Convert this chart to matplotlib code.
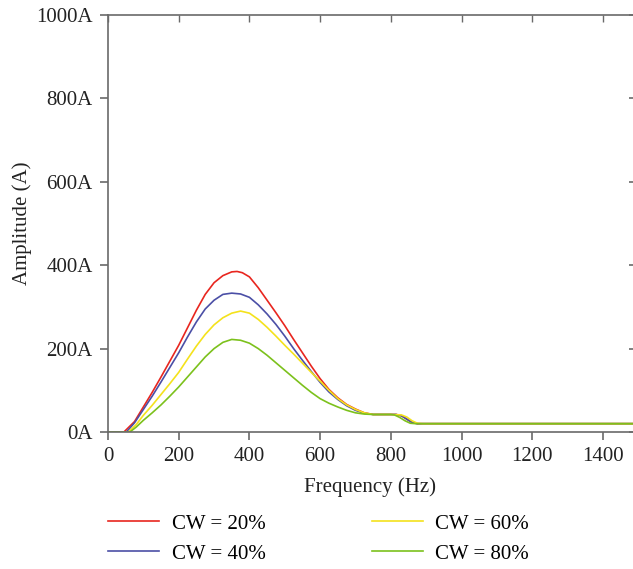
import matplotlib
matplotlib.use('Agg')
import matplotlib.pyplot as plt

plt.rcParams['font.family'] = ['Liberation Serif', 'DejaVu Serif']

# Amplitude spectra
freq_20 = [0, 45, 75, 100, 125, 150, 175, 200, 225, 250, 275, 300, 325, 350, 365, 380, 400, 425, 450, 475, 500, 525, 550, 575, 600, 625, 650, 675, 700, 725, 750, 800, 815, 830, 845, 860, 875, 900, 1000, 1100, 1200, 1300, 1400, 1500]
amp_20 = [0, 0, 25, 60, 95, 132, 170, 208, 250, 292, 330, 358, 375, 384, 385, 382, 372, 346, 316, 286, 255, 222, 190, 158, 128, 102, 82, 66, 55, 46, 42, 42, 42, 39, 31, 23, 20, 20, 20, 20, 20, 20, 20, 20]

freq_40 = [0, 52, 75, 100, 125, 150, 175, 200, 225, 250, 275, 300, 325, 350, 375, 400, 425, 450, 475, 500, 525, 550, 575, 600, 625, 650, 675, 700, 725, 750, 800, 815, 830, 845, 860, 875, 900, 1000, 1100, 1200, 1300, 1400, 1500]
amp_40 = [0, 0, 22, 54, 86, 120, 155, 190, 228, 264, 295, 316, 330, 333, 331, 323, 305, 283, 258, 230, 200, 172, 145, 119, 96, 78, 63, 52, 45, 42, 42, 42, 39, 31, 23, 20, 20, 20, 20, 20, 20, 20, 20]

freq_60 = [0, 58, 80, 100, 125, 150, 175, 200, 225, 250, 275, 300, 325, 350, 375, 400, 425, 450, 475, 500, 525, 550, 575, 600, 625, 650, 675, 700, 725, 750, 800, 830, 845, 860, 875, 890, 900, 1000, 1100, 1200, 1300, 1400, 1500]
amp_60 = [0, 0, 18, 40, 64, 90, 116, 143, 175, 206, 234, 257, 274, 285, 290, 285, 270, 251, 230, 208, 187, 165, 143, 122, 100, 80, 65, 54, 46, 42, 42, 41, 36, 27, 21, 20, 20, 20, 20, 20, 20, 20, 20]

freq_80 = [0, 62, 80, 100, 125, 150, 175, 200, 225, 250, 275, 300, 325, 350, 375, 400, 425, 450, 475, 500, 525, 550, 575, 600, 625, 650, 675, 700, 725, 750, 800, 810, 825, 840, 855, 870, 900, 1000, 1100, 1200, 1300, 1400, 1500]
amp_80 = [0, 0, 12, 28, 46, 65, 86, 108, 132, 156, 180, 200, 215, 222, 220, 213, 200, 184, 166, 148, 130, 112, 95, 80, 69, 60, 52, 46, 43, 42, 42, 41, 35, 27, 21, 20, 20, 20, 20, 20, 20, 20, 20]

labels = ['CW = 20%', 'CW = 40%', 'CW = 60%', 'CW = 80%']
colors = ['#e8261f', '#4b4fa6', '#f4e21c', '#7cc11c']
xticks = [0, 200, 400, 600, 800, 1000, 1200, 1400]
yticks = [0, 200, 400, 600, 800, 1000]

fig = plt.figure(figsize=(6.33, 5.69), dpi=100)
ax = fig.add_axes([108 / 633, 1 - 432 / 569, 1 - 108 / 633, (432 - 15) / 569])

series = [(freq_20, amp_20), (freq_40, amp_40), (freq_60, amp_60), (freq_80, amp_80)]
for (f, a), lab, c in zip(series, labels, colors):
    ax.plot(f, a, color=c, lw=1.2, label=lab)

ax.set_xlim(0, 1485)
ax.set_ylim(0, 1000)
ax.set_xticks(xticks)
ax.set_yticks(yticks)
ax.set_yticklabels([f'{v}A' for v in yticks])

gray = '#6a6a6a'
ax.spines['right'].set_visible(False)
for s in ['left', 'bottom', 'top']:
    ax.spines[s].set_color(gray)
    ax.spines[s].set_linewidth(1.2)

ax.tick_params(axis='both', direction='out', length=6, width=1.2, color=gray,
               labelsize=15, labelcolor='#222222')
ax.tick_params(axis='y', pad=5)
ax.tick_params(axis='x', pad=5)

# inward ticks on top, short ticks on the right edge
top = ax.secondary_xaxis('top')
top.set_xticks(xticks)
top.tick_params(direction='in', length=5, width=1.0, color=gray, labeltop=False)
top.spines['top'].set_visible(False)

right = ax.secondary_yaxis('right')
right.set_yticks(yticks)
right.tick_params(direction='in', length=3, width=1.2, color=gray, labelright=False)
right.spines['right'].set_visible(False)

ax.set_xlabel('Frequency (Hz)', fontsize=15, color='#222222', labelpad=8)
ax.set_ylabel('Amplitude (A)', fontsize=15, color='#222222', labelpad=3)

fig.legend(loc='upper left', bbox_to_anchor=(108 / 633, 1 - 514 / 569), ncol=2,
           frameon=False, fontsize=15, handlelength=2.45, handletextpad=0.6,
           columnspacing=5.1, labelspacing=0.5, borderpad=0, borderaxespad=0)

fig.savefig('out.png', dpi=100)
